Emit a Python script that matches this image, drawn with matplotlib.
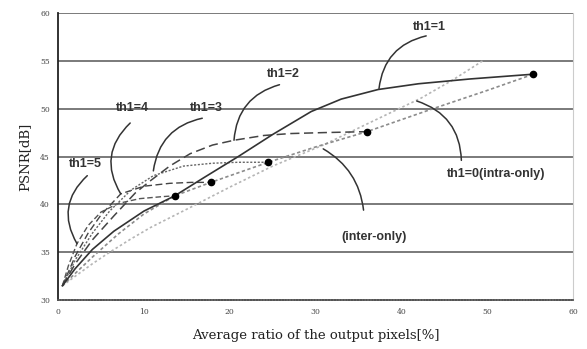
import matplotlib
matplotlib.use('Agg')
from matplotlib import pyplot as plt

# curves (x = average ratio of output pixels [%], y = PSNR [dB])
th1_1_x = [0.5, 2, 4, 6.5, 10, 13.6, 17, 21, 25, 29.5, 33, 37.3, 42, 48, 55.4]
th1_1_y = [31.5, 33.3, 35.3, 37.2, 39.3, 40.9, 42.8, 45.0, 47.3, 49.7, 51.0, 52.0, 52.6, 53.1, 53.6]

th1_2_x = [0.5, 2, 4, 6.5, 9, 10.8, 13, 15.4, 18, 20.5, 24, 27.1, 31, 36]
th1_2_y = [31.5, 33.8, 36.3, 38.8, 41.2, 42.5, 44.0, 45.3, 46.2, 46.7, 47.2, 47.4, 47.5, 47.6]

th1_3_x = [0.5, 2, 4, 6, 8.5, 11.1, 14.6, 18, 21, 24.5]
th1_3_y = [31.5, 34.2, 37.0, 39.3, 41.5, 43.0, 44.0, 44.3, 44.4, 44.4]

th1_4_x = [0.5, 2, 3.5, 5, 7.3, 10, 13, 15.5, 17.8]
th1_4_y = [31.5, 34.6, 37.0, 38.9, 41.1, 41.9, 42.2, 42.3, 42.3]

th1_5_x = [0.5, 1.2, 2.2, 3.5, 5, 7, 9.5, 12, 13.6]
th1_5_y = [31.5, 33.6, 35.9, 37.8, 39.2, 40.1, 40.6, 40.8, 40.9]

intra_x = [0.5, 2, 4, 7, 10, 13.6, 17.8, 24.5, 30, 36, 43.7, 50, 55.4]
intra_y = [31.5, 32.8, 34.5, 36.9, 39.0, 40.9, 42.3, 44.4, 46.0, 47.6, 50.0, 51.9, 53.6]

inter_x = [0.5, 2, 4, 6, 8.5, 10.8, 15, 20, 25, 30.9, 36, 42.3, 46, 49.5]
inter_y = [31.5, 32.5, 33.8, 35.0, 36.4, 37.6, 39.5, 41.8, 44.0, 46.2, 48.4, 51.1, 53.0, 55.0]

x_ticks = [0, 10, 20, 30, 40, 50, 60]
y_ticks = [30, 35, 40, 45, 50, 55, 60]

fig = plt.figure(figsize=(5.87, 3.49), dpi=100)
ax = fig.add_axes([0.099, 0.140, 0.877, 0.823])

for y in y_ticks[1:]:
    ax.axhline(y, color='#7a7a7a', lw=1.4, zorder=1)

ax.plot(inter_x, inter_y, color='#b5b5b5', lw=1.2, ls=(0, (1.5, 1.5)), zorder=2)
ax.plot(intra_x, intra_y, color='#8c8c8c', lw=1.2, ls=(0, (2, 1.5)), zorder=2)
ax.plot(th1_5_x, th1_5_y, color='#555555', lw=1.0, ls=(0, (4, 2)), zorder=3)
ax.plot(th1_4_x, th1_4_y, color='#444444', lw=1.0, ls=(0, (5, 2.5)), zorder=3)
ax.plot(th1_3_x, th1_3_y, color='#666666', lw=1.0, ls=(0, (1.5, 1.2)), zorder=3)
ax.plot(th1_2_x, th1_2_y, color='#444444', lw=1.1, ls=(0, (6, 3)), zorder=3)
ax.plot(th1_1_x, th1_1_y, color='#333333', lw=1.2, zorder=3)

# end points of the th1 curves lie on the intra-only curve
ends_x = [th1_5_x[-1], th1_4_x[-1], th1_3_x[-1], th1_2_x[-1], th1_1_x[-1]]
ends_y = [th1_5_y[-1], th1_4_y[-1], th1_3_y[-1], th1_2_y[-1], th1_1_y[-1]]
ax.plot(ends_x, ends_y, 'o', color='black', ms=4.5, zorder=4)

ax.set_xlim(0, 60)
ax.set_ylim(30, 60)
ax.set_xticks(x_ticks)
ax.set_yticks(y_ticks)
ax.tick_params(length=0, labelsize=5.5, labelcolor='#444444', pad=6,
               labelfontfamily='DejaVu Serif')

ax.spines['left'].set_color('#222222')
ax.spines['left'].set_linewidth(1.3)
ax.spines['bottom'].set_color('#555555')
ax.spines['bottom'].set_linewidth(1.3)
ax.spines['bottom'].set_linestyle((0, (1, 0.6)))
ax.spines['right'].set_color('#cccccc')
ax.spines['top'].set_visible(False)

ax.set_xlabel('Average ratio of the output pixels[%]', family='DejaVu Serif',
              fontsize=9.5, color='#222222', labelpad=9)
ax.set_ylabel('PSNR[dB]', family='DejaVu Serif', fontsize=9.5, color='#222222', labelpad=6)

lab = dict(fontsize=9, fontweight='bold', color='#333333', family='Liberation Sans',
           ha='center', va='center', zorder=5)
ax.text(43.3, 58.5, 'th1=1', **lab)
ax.text(26.3, 53.6, 'th1=2', **lab)
ax.text(17.3, 50.1, 'th1=3', **lab)
ax.text(8.7, 50.1, 'th1=4', **lab)
ax.text(3.2, 44.2, 'th1=5', **lab)
ax.text(51.0, 43.2, 'th1=0(intra-only)', **lab)
ax.text(36.8, 36.6, '(inter-only)', **lab)

lead = dict(arrowstyle='-', color='#333333', lw=1.1, shrinkA=0, shrinkB=0)
ax.annotate('', xy=(37.4, 52.1), xytext=(42.9, 57.6),
            arrowprops=dict(connectionstyle='arc3,rad=0.35', **lead))
ax.annotate('', xy=(20.5, 46.7), xytext=(25.8, 52.5),
            arrowprops=dict(connectionstyle='arc3,rad=0.35', **lead))
ax.annotate('', xy=(11.1, 43.5), xytext=(16.8, 49.0),
            arrowprops=dict(connectionstyle='arc3,rad=0.35', **lead))
ax.annotate('', xy=(7.3, 41.1), xytext=(8.4, 48.5),
            arrowprops=dict(connectionstyle='arc3,rad=0.4', **lead))
ax.annotate('', xy=(2.2, 35.9), xytext=(3.4, 43.0),
            arrowprops=dict(connectionstyle='arc3,rad=0.4', **lead))
ax.annotate('', xy=(41.8, 50.8), xytext=(47.0, 44.6),
            arrowprops=dict(connectionstyle='arc3,rad=0.35', **lead))
ax.annotate('', xy=(30.9, 45.8), xytext=(35.6, 39.4),
            arrowprops=dict(connectionstyle='arc3,rad=0.25', **lead))

fig.savefig('out.png', dpi=100)
